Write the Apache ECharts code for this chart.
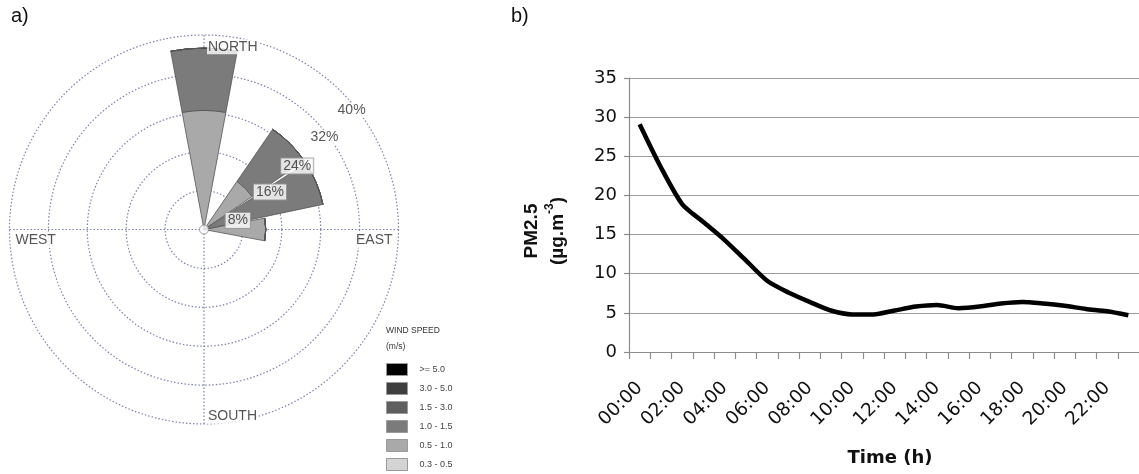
<!DOCTYPE html>
<html>
<head>
<meta charset="utf-8">
<script src="https://cdn.jsdelivr.net/npm/echarts@6/dist/echarts.min.js"></script>
<style>
html,body{margin:0;padding:0;background:#fff;}
#chart{width:1139px;height:474px;}
</style>
</head>
<body>
<div id="chart"></div>
<script>
// ---------- DATA ----------
// a) wind rose: 16 directions, clockwise from North
const directions = ['N','NNE','NE','ENE','E','ESE','SE','SSE','S','SSW','SW','WSW','W','WNW','NW','NNW'];
// frequency (%) per wind-speed class
const freq_03_05 = [0,0,0,0,0,0,0,0,0,0,0,0,0,0,0,0];
const freq_05_10 = [24.5,0,12,0,12.7,0,0,0,0,0,0,0,0,0,0,0];
const freq_10_15 = [12.8,0,13,25,0,0,0,0,0,0,0,0,0,0,0,0];
const freq_15_30 = [0,0,0,0,0,0,0,0,0,0,0,0,0,0,0,0];
const freq_30_50 = [0,0,0,0,0,0,0,0,0,0,0,0,0,0,0,0];
const freq_50    = [0,0,0,0,0,0,0,0,0,0,0,0,0,0,0,0];
const speedClasses = ['0.3 - 0.5','0.5 - 1.0','1.0 - 1.5','1.5 - 3.0','3.0 - 5.0','>= 5.0'];
const ringTicks  = [8,16,24,32,40];
const ringLabels = ['8%','16%','24%','32%','40%'];
const compassAngles = [0,90,180,270];
const compassNames  = ['NORTH','EAST','SOUTH','WEST'];

// b) PM2.5 daily profile
const hours = ['00:00','01:00','02:00','03:00','04:00','05:00','06:00','07:00','08:00','09:00','10:00','11:00',
               '12:00','13:00','14:00','15:00','16:00','17:00','18:00','19:00','20:00','21:00','22:00','23:00'];
const pm25 = [29.1,23.6,18.9,16.6,14.3,11.7,9.1,7.6,6.4,5.3,4.8,4.8,5.3,5.8,6.0,5.6,5.8,6.2,6.4,6.2,5.9,5.5,5.2,4.7];
const yMin = 0, yMax = 35, yStep = 5;

// ---------- STYLE / LAYOUT ----------
const speedColors = {'0.3 - 0.5':'#d4d4d4','0.5 - 1.0':'#a9a9a9','1.0 - 1.5':'#7b7b7b','1.5 - 3.0':'#5f5f5f','3.0 - 5.0':'#3f3f3f','>= 5.0':'#000000'};
const speedData = [freq_03_05, freq_05_10, freq_10_15, freq_15_30, freq_30_50, freq_50];
const roseCenter = [204, 229.5], roseRadius = 194.5;
const gridLine = {color:'#7d80ad', type:[1.5,2], width:1.2};
// label anchor placement (radius offset from ring, angle) for ring labels
const ringLabelAngles = [75, 60.4, 55.7, 52.6, 51.1];
const ringLabelInset  = [0.8, 0.4, 0.8, 0.8, 1.0];
const ringBoxed = [true, true, true, false, false];
// compass label placement
const compassLayout = {
  NORTH: {r:37.6, position:'right', offset:[1,0]},
  EAST:  {r:39.4, position:'left',  offset:[0,11]},
  SOUTH: {r:38.4, position:'right', offset:[1,0]},
  WEST:  {r:39.4, position:'right', offset:[0,11]}
};

const chart = echarts.init(document.getElementById('chart'), null, {renderer:'canvas'});

const barSeries = speedClasses.map((name, i) => ({
  name: name,
  type: 'bar',
  coordinateSystem: 'polar',
  polarIndex: 0,
  stack: 'wind',
  data: speedData[i],
  barCategoryGap: '6%',
  itemStyle: {color: speedColors[name], borderColor:'#555', borderWidth:0.8},
  emphasis: {disabled:true},
  z: 3
}));

const compassData = compassNames.map((n, i) => ({
  value: [compassLayout[n].r, compassAngles[i]],
  name: n,
  label: {
    show: true, formatter: n, position: compassLayout[n].position, distance: 2,
    offset: compassLayout[n].offset,
    fontFamily: 'Liberation Sans', fontSize: 14, color: '#2a2a2a',
    backgroundColor: '#fff', padding: [1,1,0,1]
  }
}));

const ringData = ringTicks.map((t, i) => ({
  value: [t - ringLabelInset[i], ringLabelAngles[i]],
  name: ringLabels[i],
  label: {
    show: true, formatter: ringLabels[i], position: 'inside',
    fontFamily: 'Liberation Sans', fontSize: 14, color: '#2a2a2a',
    backgroundColor: '#fff',
    borderColor: ringBoxed[i] ? '#9a9a9a' : 'transparent', borderWidth: ringBoxed[i] ? 1 : 0,
    padding: [1,2,0,2]
  }
}));

const option = {
  animation: false,
  backgroundColor: '#fff',
  textStyle: {fontFamily: 'Liberation Sans'},
  legend: {
    data: speedClasses.slice().reverse(),
    orient: 'vertical',
    left: 386, top: 363, height: 200, padding: 0,
    itemWidth: 21, itemHeight: 12, itemGap: 6,
    icon: 'rect',
    selectedMode: false,
    itemStyle: {borderColor:'#9a9a9a', borderWidth:1},
    textStyle: {fontFamily:'Liberation Sans', fontSize: 9, color:'#444', padding:[0,0,0,7]}
  },
  polar: [
    {center: roseCenter, radius: roseRadius},
    {center: roseCenter, radius: roseRadius}
  ],
  angleAxis: [
    {polarIndex:0, type:'category', data: directions, startAngle: 90 + 180/directions.length, clockwise: true,
     boundaryGap: true, axisLine:{show:false}, axisTick:{show:false}, axisLabel:{show:false}, splitLine:{show:false}},
    {polarIndex:1, type:'value', min:0, max:360, interval:90, startAngle:90, clockwise:true,
     axisLine:{show:false}, axisTick:{show:false}, axisLabel:{show:false},
     splitLine:{show:true, lineStyle:gridLine}}
  ],
  radiusAxis: [
    {polarIndex:0, type:'value', min:0, max:ringTicks[ringTicks.length-1],
     axisLine:{show:false}, axisTick:{show:false}, axisLabel:{show:false}, splitLine:{show:false}},
    {polarIndex:1, type:'value', min:0, max:ringTicks[ringTicks.length-1], interval: ringTicks[0],
     axisLine:{show:false}, axisTick:{show:false}, axisLabel:{show:false},
     splitLine:{show:true, lineStyle:gridLine}}
  ],
  grid: {left: 629, top: 78, width: 514, height: 274},
  xAxis: {
    type: 'category', data: hours, boundaryGap: true,
    axisLine: {show:true, lineStyle:{color:'#8c8c8c', width:1.2}},
    axisTick: {show:true, interval:0, length:7, lineStyle:{color:'#8c8c8c', width:1.2}},
    axisLabel: {interval:1, rotate:45, margin:33, fontFamily:'DejaVu Sans', fontSize:18.5, color:'#111'},
    name: 'Time (h)', nameLocation: 'middle', nameGap: 97,
    nameTextStyle: {fontFamily:'DejaVu Sans', fontWeight:'bold', fontSize:18, color:'#111', padding:[0,0,0,12]}
  },
  yAxis: {
    type: 'value', min: yMin, max: yMax, interval: yStep,
    axisLine: {show:true, lineStyle:{color:'#8c8c8c', width:1.2}},
    axisTick: {show:true, length:5, lineStyle:{color:'#8c8c8c', width:1.2}},
    axisLabel: {margin:12, fontFamily:'DejaVu Sans', fontSize:18, color:'#111'},
    splitLine: {show:true, lineStyle:{color:'#9d9d9d', width:1.2}}
  },
  graphic: [
    {type:'text', left: 11, top: 6, style:{text:'a)', font:'20px "Liberation Sans"', fill:'#111'}},
    {type:'text', left: 511, top: 6, style:{text:'b)', font:'20px "Liberation Sans"', fill:'#111'}},
    {type:'text', x: 386, y: 323, style:{text:'WIND SPEED\n(m/s)', font:'8.5px "Liberation Sans"', fill:'#333', lineHeight:16}},
    {type:'text', x: 541, y: 231, rotation: Math.PI/2,
     style:{
       text: '{b|PM2.5}\n{b|(µg.m}{s|-3}{b|)}',
       align:'center', verticalAlign:'middle',
       rich: {
         b: {fontFamily:'Liberation Sans', fontWeight:'bold', fontSize:19, fill:'#111', lineHeight:26, verticalAlign:'bottom'},
         s: {fontFamily:'Liberation Sans', fontWeight:'bold', fontSize:12, fill:'#111', lineHeight:26, verticalAlign:'middle', padding:[0,0,8,0]}
       }
     }}
  ],
  series: barSeries.concat([
    {
      type:'scatter', coordinateSystem:'polar', polarIndex:1,
      data: [[0,0]], symbol:'circle', symbolSize: 9,
      itemStyle:{color:'#fff', borderColor:'#8a8a8a', borderWidth:1}, z: 6, silent:true
    },
    {
      type:'scatter', coordinateSystem:'polar', polarIndex:1,
      data: compassData, symbolSize: 0, z: 7, silent:true
    },
    {
      type:'scatter', coordinateSystem:'polar', polarIndex:1,
      data: ringData, symbolSize: 0, z: 7, silent:true
    },
    {
      name: 'PM2.5', type:'line', xAxisIndex:0, yAxisIndex:0,
      data: pm25, smooth: 0.25, showSymbol:false,
      lineStyle: {color:'#000', width:4.5}, z: 5
    }
  ])
};
chart.setOption(option);
</script>
</body>
</html>
